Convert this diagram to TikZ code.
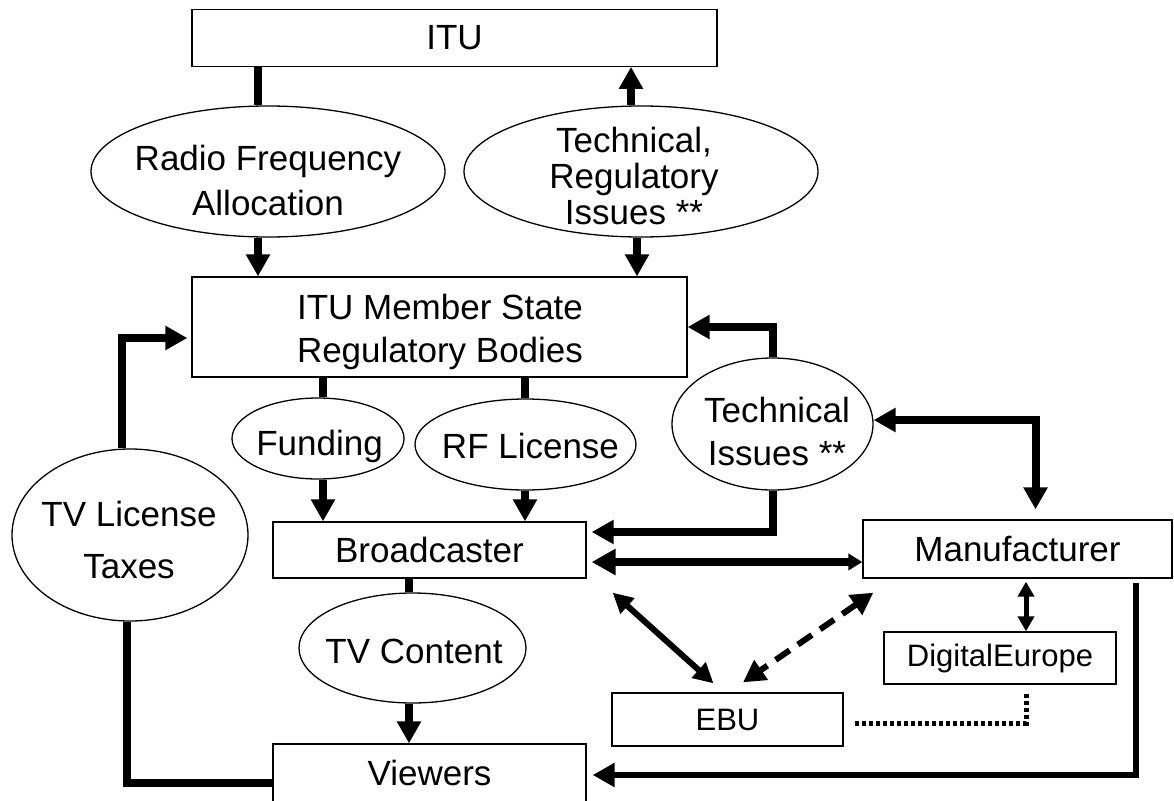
\documentclass[tikz,border=0pt]{standalone}
\usepackage{fontspec}
\setmainfont{Liberation Sans}
\usetikzlibrary{arrows.meta,shapes.geometric,calc}
\begin{document}
\begin{tikzpicture}[x=1pt,y=-1pt,
  box/.style={draw,line width=1.3pt,inner sep=0pt,align=center,font=\fontsize{35}{42}\selectfont},
  smallbox/.style={box,font=\fontsize{31}{38}\selectfont},
  oval/.style={ellipse,draw,line width=1.3pt,inner sep=0pt},
  txt/.style={inner sep=0pt,align=center,font=\fontsize{35}{42}\selectfont},
  thk/.style={line width=8pt,line join=miter},
  arr/.style={thk,-{Triangle[length=22pt,width=23pt]}},
  darr/.style={thk,{Triangle[length=22pt,width=23pt]}-{Triangle[length=22pt,width=23pt]}},
  midarr/.style={line width=6pt,{Triangle[length=20pt,width=20pt]}-{Triangle[length=20pt,width=20pt]}},
  dasharr/.style={line width=6pt,dash pattern=on 17pt off 10pt,{Triangle[length=22pt,width=23pt]}-{Triangle[length=22pt,width=23pt]}},
  thinarr/.style={line width=5pt,{Triangle[length=15pt,width=16pt]}-{Triangle[length=15pt,width=16pt]}},
  dotline/.style={line width=5pt,dash pattern=on 4pt off 3pt},
]
\useasboundingbox (0,0) rectangle (1174,800);

% nodes
\node[box,minimum width=525pt,minimum height=56.5pt] (itu) at (454.5,38) {ITU};

\node[oval,minimum width=354pt,minimum height=131pt] (rfa) at (268,171.5) {};
\node[txt,font=\fontsize{35}{45}\selectfont] (rfat) at (268,180) {Radio Frequency\\Allocation};

\node[oval,minimum width=354pt,minimum height=131pt] (tri) at (641,171.5) {};
\node[txt,font=\fontsize{35}{36}\selectfont] (trit) at (634,175.5) {Technical,\\Regulatory\\Issues **};

\node[box,minimum width=495pt,minimum height=100pt] (ms) at (439.5,327) {};
\node[txt,font=\fontsize{35}{43}\selectfont] (mst) at (440,332) {ITU Member State\\Regulatory Bodies};

\node[oval,minimum width=172pt,minimum height=81pt] (fund) at (318,438.5) {};
\node[txt] (fundt) at (319.5,446) {Funding};

\node[oval,minimum width=221pt,minimum height=91pt] (rfl) at (525.5,444.5) {};
\node[txt] (rflt) at (530.5,446) {RF License};

\node[oval,minimum width=201pt,minimum height=132pt] (ti) at (772.5,424) {};
\node[txt,font=\fontsize{35}{43}\selectfont] (tit) at (777,431.5) {Technical\\Issues **};

\node[oval,minimum width=236pt,minimum height=172pt] (tvl) at (130,535) {};
\node[txt,font=\fontsize{35}{52}\selectfont] (tvlt) at (129,539.5) {TV License\\Taxes};

\node[box,minimum width=313pt,minimum height=56pt] (bc) at (429.5,550) {Broadcaster};
\node[box,minimum width=309pt,minimum height=58pt] (man) at (1017.5,549) {Manufacturer};

\node[oval,minimum width=227pt,minimum height=110pt] (tvc) at (412.5,648) {};
\node[txt] (tvct) at (414,651.5) {TV Content};

\node[smallbox,minimum width=231pt,minimum height=53pt] (ebu) at (727.5,719.5) {EBU};
\node[smallbox,minimum width=232pt,minimum height=52pt] (de) at (1000,658) {DigitalEurope};
\node[box,minimum width=313pt,minimum height=58pt] (view) at (429.5,773) {Viewers};

% connectors
\draw[thk] (258,0 |- itu.south) -- (258,0 |- rfa.north);
\draw[arr] (258,0 |- rfa.south) -- (258,0 |- ms.north);
\draw[arr] (631,0 |- tri.north) -- (631,0 |- itu.south);
\draw[arr] (637,0 |- tri.south) -- (637,0 |- ms.north);

\draw[arr,shorten >=4pt] (122,0 |- tvl.north) |- ([yshift=-11pt]ms.west);
\draw[thk] (127,0 |- tvl.south) |- ([yshift=-10pt]view.west);

\draw[thk] (323,0 |- ms.south) -- (323,0 |- fund.north);
\draw[arr] (323,0 |- fund.south) -- (323,0 |- bc.north);
\draw[thk] (525,0 |- ms.south) -- (525,0 |- rfl.north);
\draw[arr] (525,0 |- rfl.south) -- (525,0 |- bc.north);

\draw[arr] (ti.north) |- (ms.east);
\draw[arr,shorten >=5pt] (ti.south) |- ([yshift=18pt]bc.east);
\draw[darr,shorten <=10pt] ([xshift=18pt]man.north) |- ([yshift=4pt]ti.east);

\draw[thk,{Triangle[length=24pt,width=25pt]}-{Triangle[length=14pt,width=16pt]},shorten <=5pt] (bc.east |- 0,562) -- (man.west |- 0,562);
\draw[midarr] ($(bc.south east)+(26,14)$) -- ($(ebu.north)+(-14,-9)$);
\draw[dasharr] ($(man.south west)+(11,14)$) -- ($(ebu.north)+(15.5,-10)$);
\draw[thinarr,shorten <=3pt] (1026,0 |- man.south) -- (1026,0 |- de.north);
\draw[dotline,shorten <=9pt,shorten >=10pt] (1026,0 |- de.south) |- ([yshift=-3.5pt]ebu.east);
\draw[line width=6.5pt,line join=miter,-{Triangle[length=22pt,width=23pt]},shorten <=4pt,shorten >=6pt] (1136,0 |- man.south) |- ([yshift=-2pt]view.east);

\draw[thk] (409,0 |- bc.south) -- (409,0 |- tvc.north);
\draw[arr] (409,0 |- tvc.south) -- (409,0 |- view.north);
\end{tikzpicture}
\end{document}
